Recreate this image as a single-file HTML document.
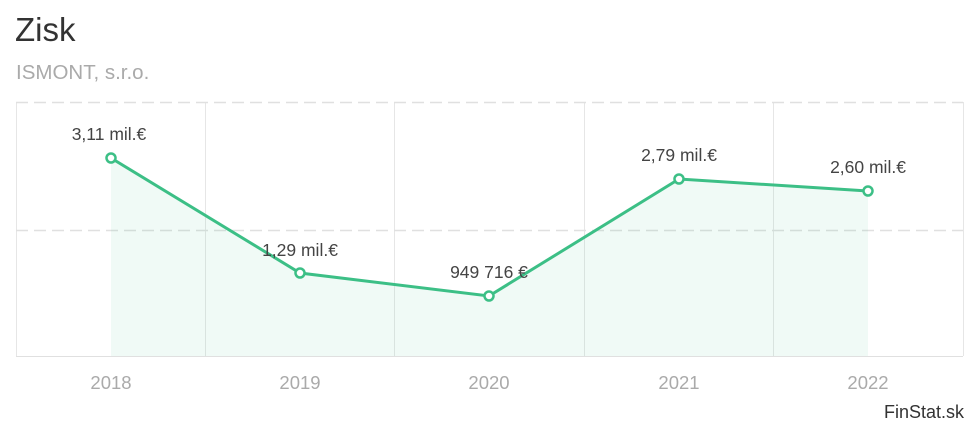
<!DOCTYPE html>
<html><head><meta charset="utf-8"><style>
html,body{margin:0;padding:0;background:#fff;}
svg{display:block;font-family:"Liberation Sans",sans-serif;}
</style></head><body>
<svg width="980" height="425" viewBox="0 0 980 425">
<text x="15" y="41" font-size="33" fill="#333">Zisk</text>
<text x="16" y="79" font-size="20.5" fill="#aaa">ISMONT, s.r.o.</text>
<g stroke="#e6e6e6" stroke-width="1">
<line x1="16.5" y1="102" x2="16.5" y2="356"/>
<line x1="205.5" y1="102" x2="205.5" y2="356"/>
<line x1="394.5" y1="102" x2="394.5" y2="356"/>
<line x1="584.5" y1="102" x2="584.5" y2="356"/>
<line x1="773.5" y1="102" x2="773.5" y2="356"/>
<line x1="963.5" y1="102" x2="963.5" y2="356"/>
</g>
<g stroke="#e0e0e0" stroke-width="1.5" stroke-dasharray="12,6">
<line x1="16" y1="102.5" x2="963" y2="102.5"/>
<line x1="16" y1="230.5" x2="963" y2="230.5"/>
</g>
<line x1="16" y1="356.5" x2="963" y2="356.5" stroke="#e0e0e0"/>
<polygon points="111,158 300,273 489,296 679,179 868,191 868,356 111,356" fill="#3cbf86" fill-opacity="0.08"/>
<polyline points="111,158 300,273 489,296 679,179 868,191" fill="none" stroke="#3cbf86" stroke-width="3"/>
<g fill="#fff" stroke="#3cbf86" stroke-width="2.5">
<circle cx="111" cy="158" r="4.5"/><circle cx="300" cy="273" r="4.5"/><circle cx="489" cy="296" r="4.5"/><circle cx="679" cy="179" r="4.5"/><circle cx="868" cy="191" r="4.5"/>
</g>
<g font-size="17.5" fill="#444" text-anchor="middle">
<text x="109" y="140">3,11 mil.€</text>
<text x="300" y="256">1,29 mil.€</text>
<text x="489" y="278">949 716 €</text>
<text x="679" y="161">2,79 mil.€</text>
<text x="868" y="173">2,60 mil.€</text>
</g>
<g font-size="18.5" fill="#aaa" text-anchor="middle">
<text x="111" y="389">2018</text><text x="300" y="389">2019</text><text x="489" y="389">2020</text><text x="679" y="389">2021</text><text x="868" y="389">2022</text>
</g>
<text x="964" y="418" font-size="18" fill="#333" text-anchor="end">FinStat.sk</text>
</svg>
</body></html>
